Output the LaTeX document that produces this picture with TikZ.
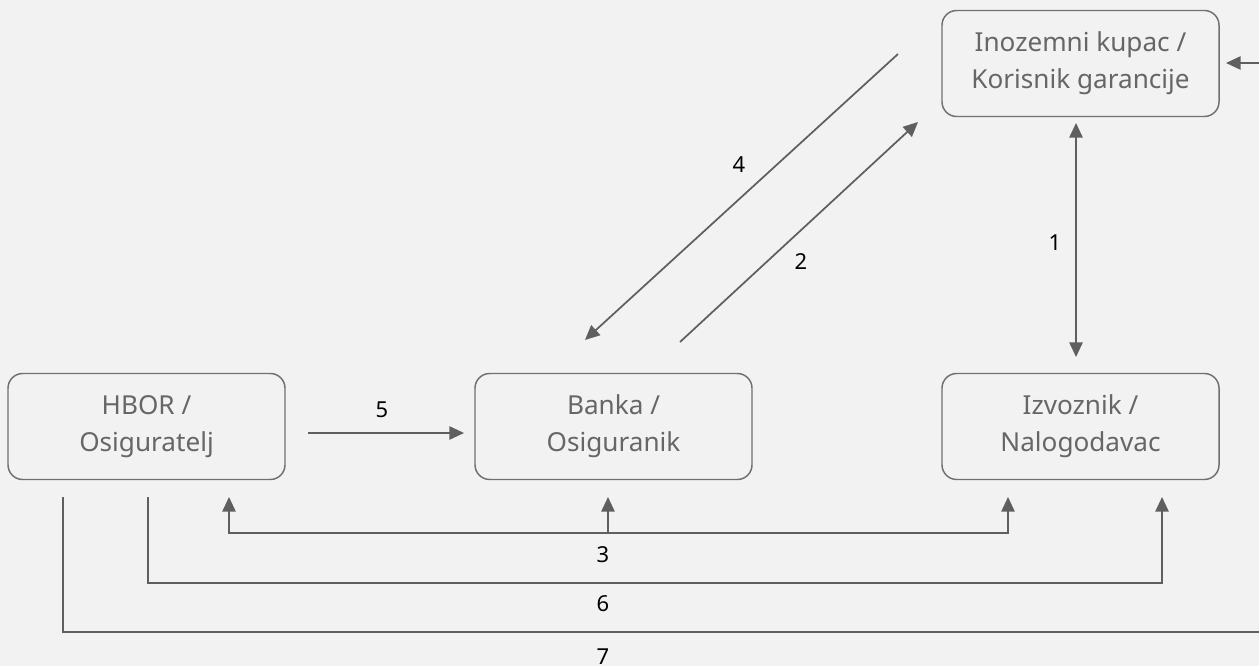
\documentclass[tikz,border=0pt]{standalone}
\usepackage{fontspec}
\setmainfont{Noto Sans}
\usetikzlibrary{arrows.meta}
\definecolor{bg}{HTML}{F2F2F2}
\definecolor{ln}{HTML}{5F5F5F}
\definecolor{bx}{HTML}{707070}
\definecolor{tx}{HTML}{666666}
\begin{document}
\begin{tikzpicture}[x=0.75pt,y=-0.75pt,
  box/.style={draw=bx, line width=1.1pt, rounded corners=11pt, minimum width=207.75pt, minimum height=79.5pt, align=center, text=tx, font=\fontsize{19.6}{27.5}\selectfont},
  conn/.style={draw=ln, line width=1.3pt},
  tip/.style={-{Triangle[length=11pt,width=10pt]}},
  dtip/.style={{Triangle[length=11pt,width=10pt]}-{Triangle[length=11pt,width=10pt]}},
  lab/.style={font=\fontsize{16.5}{19}\selectfont, text=black, inner sep=0pt}]
\fill[bg] (0,0) rectangle (1259,666);
\useasboundingbox (0,0) rectangle (1259,666);
\clip (0,0) rectangle (1259,666);
\node[box] (inoz) at (1080.5,63.5) {Inozemni kupac /\\Korisnik garancije};
\node[box] (hbor) at (146.5,426.5) {HBOR /\\Osiguratelj};
\node[box] (banka) at (613.5,426.5) {Banka /\\Osiguranik};
\node[box] (izv) at (1080.5,426.5) {Izvoznik /\\Nalogodavac};
% coordinates
\coordinate (c1a) at (1076,123);
\coordinate (c1b) at (1076,357);
\coordinate (c2a) at (680,342);
\coordinate (c2b) at (918,122);
\coordinate (c4a) at (898,54);
\coordinate (c4b) at (585,340);
\coordinate (c5a) at (308,433);
\coordinate (c5b) at (464,433);
\coordinate (c3l) at (229,497);
\coordinate (c3r) at (1008,497);
\coordinate (c3m) at (608,497);
\coordinate (c6a) at (148,497);
\coordinate (c6b) at (1162,497);
\coordinate (c7a) at (63,497);
\coordinate (c7b) at (1226,63);
% connectors
\draw[conn,dtip] (c1a) -- (c1b);
\draw[conn,tip] (c2a) -- (c2b);
\draw[conn,tip] (c4a) -- (c4b);
\draw[conn,tip] (c5a) -- (c5b);
\draw[conn,dtip] (c3l) -- (229,533) -- (1008,533) -- (c3r);
\draw[conn,tip] (608,533) -- (c3m);
\draw[conn,tip] (c6a) -- (148,583) -- (1162,583) -- (c6b);
\draw[conn,tip] (c7a) -- (63,632) -- (1275,632) -- (1275,63) -- (c7b);
% labels
\node[lab] (l1) at (1055,243) {1};
\node[lab] (l2) at (801,262) {2};
\node[lab] (l3) at (603,555) {3};
\node[lab] (l4) at (739,165) {4};
\node[lab] (l5) at (382,410) {5};
\node[lab] (l6) at (603,604) {6};
\node[lab] (l7) at (603,657) {7};
\end{tikzpicture}
\end{document}
